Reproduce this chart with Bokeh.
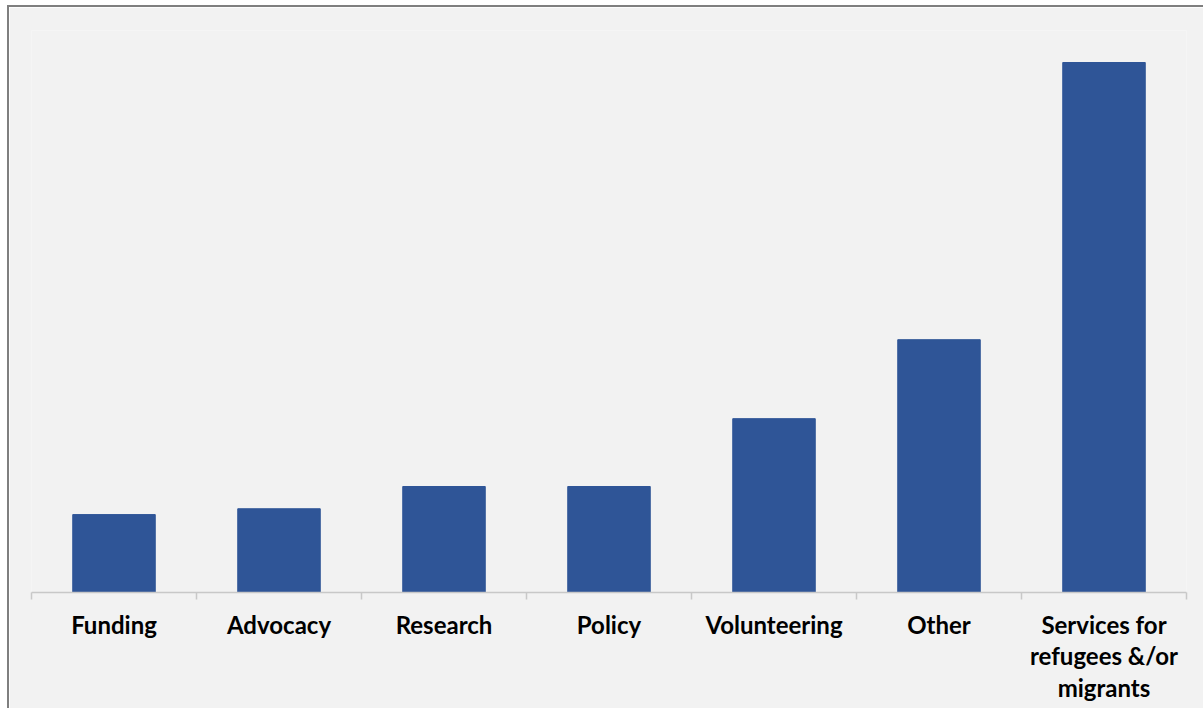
from bokeh.plotting import figure
from bokeh.models import FixedTicker, Range1d, ColumnDataSource
from bokeh.embed import file_html
from bokeh.resources import INLINE

categories = ["Funding", "Advocacy", "Research", "Policy", "Volunteering", "Other",
              "Services for\nrefugees &/or\nmigrants"]
values = [14.7, 15.8, 20.0, 20.0, 32.8, 47.7, 100.0]

xs = [i + 0.5 for i in range(len(categories))]
src = ColumnDataSource(dict(x=xs, top=values))

p = figure(width=1196, height=703, output_backend="svg", toolbar_location=None,
           x_range=Range1d(0, len(categories)), y_range=Range1d(0, 106.04),
           min_border_left=22, min_border_right=19, min_border_top=23, min_border_bottom=118)
p.margin = (5, 0, 0, 7)
p.styles = {"border-left": "2px solid #7f7f7f", "border-top": "2px solid #7f7f7f"}
p.background_fill_color = "#f2f2f2"
p.border_fill_color = "#f2f2f2"
p.outline_line_color = None
p.grid.visible = False
p.yaxis.visible = False

p.vbar(x="x", top="top", width=0.5, bottom=0, source=src,
       fill_color="#2f5597", line_color="#2f5597")

ax = p.xaxis[0]
ax.ticker = FixedTicker(ticks=xs, minor_ticks=list(range(len(categories) + 1)))
ax.major_label_overrides = {x: c for x, c in zip(xs, categories)}
ax.axis_line_color = "#c8c8c8"
ax.axis_line_width = 1.5
ax.major_tick_line_color = None
ax.minor_tick_line_color = "#c8c8c8"
ax.minor_tick_line_width = 1.5
ax.minor_tick_out = 7
ax.minor_tick_in = 0
ax.major_tick_out = 0
ax.major_label_standoff = 10
ax.major_label_text_font = "Lato"
ax.major_label_text_font_style = "bold"
ax.major_label_text_font_size = "24px"
ax.major_label_text_color = "black"
ax.major_label_text_line_height = 1.1

open("out.html", "w").write(file_html(p, INLINE))
